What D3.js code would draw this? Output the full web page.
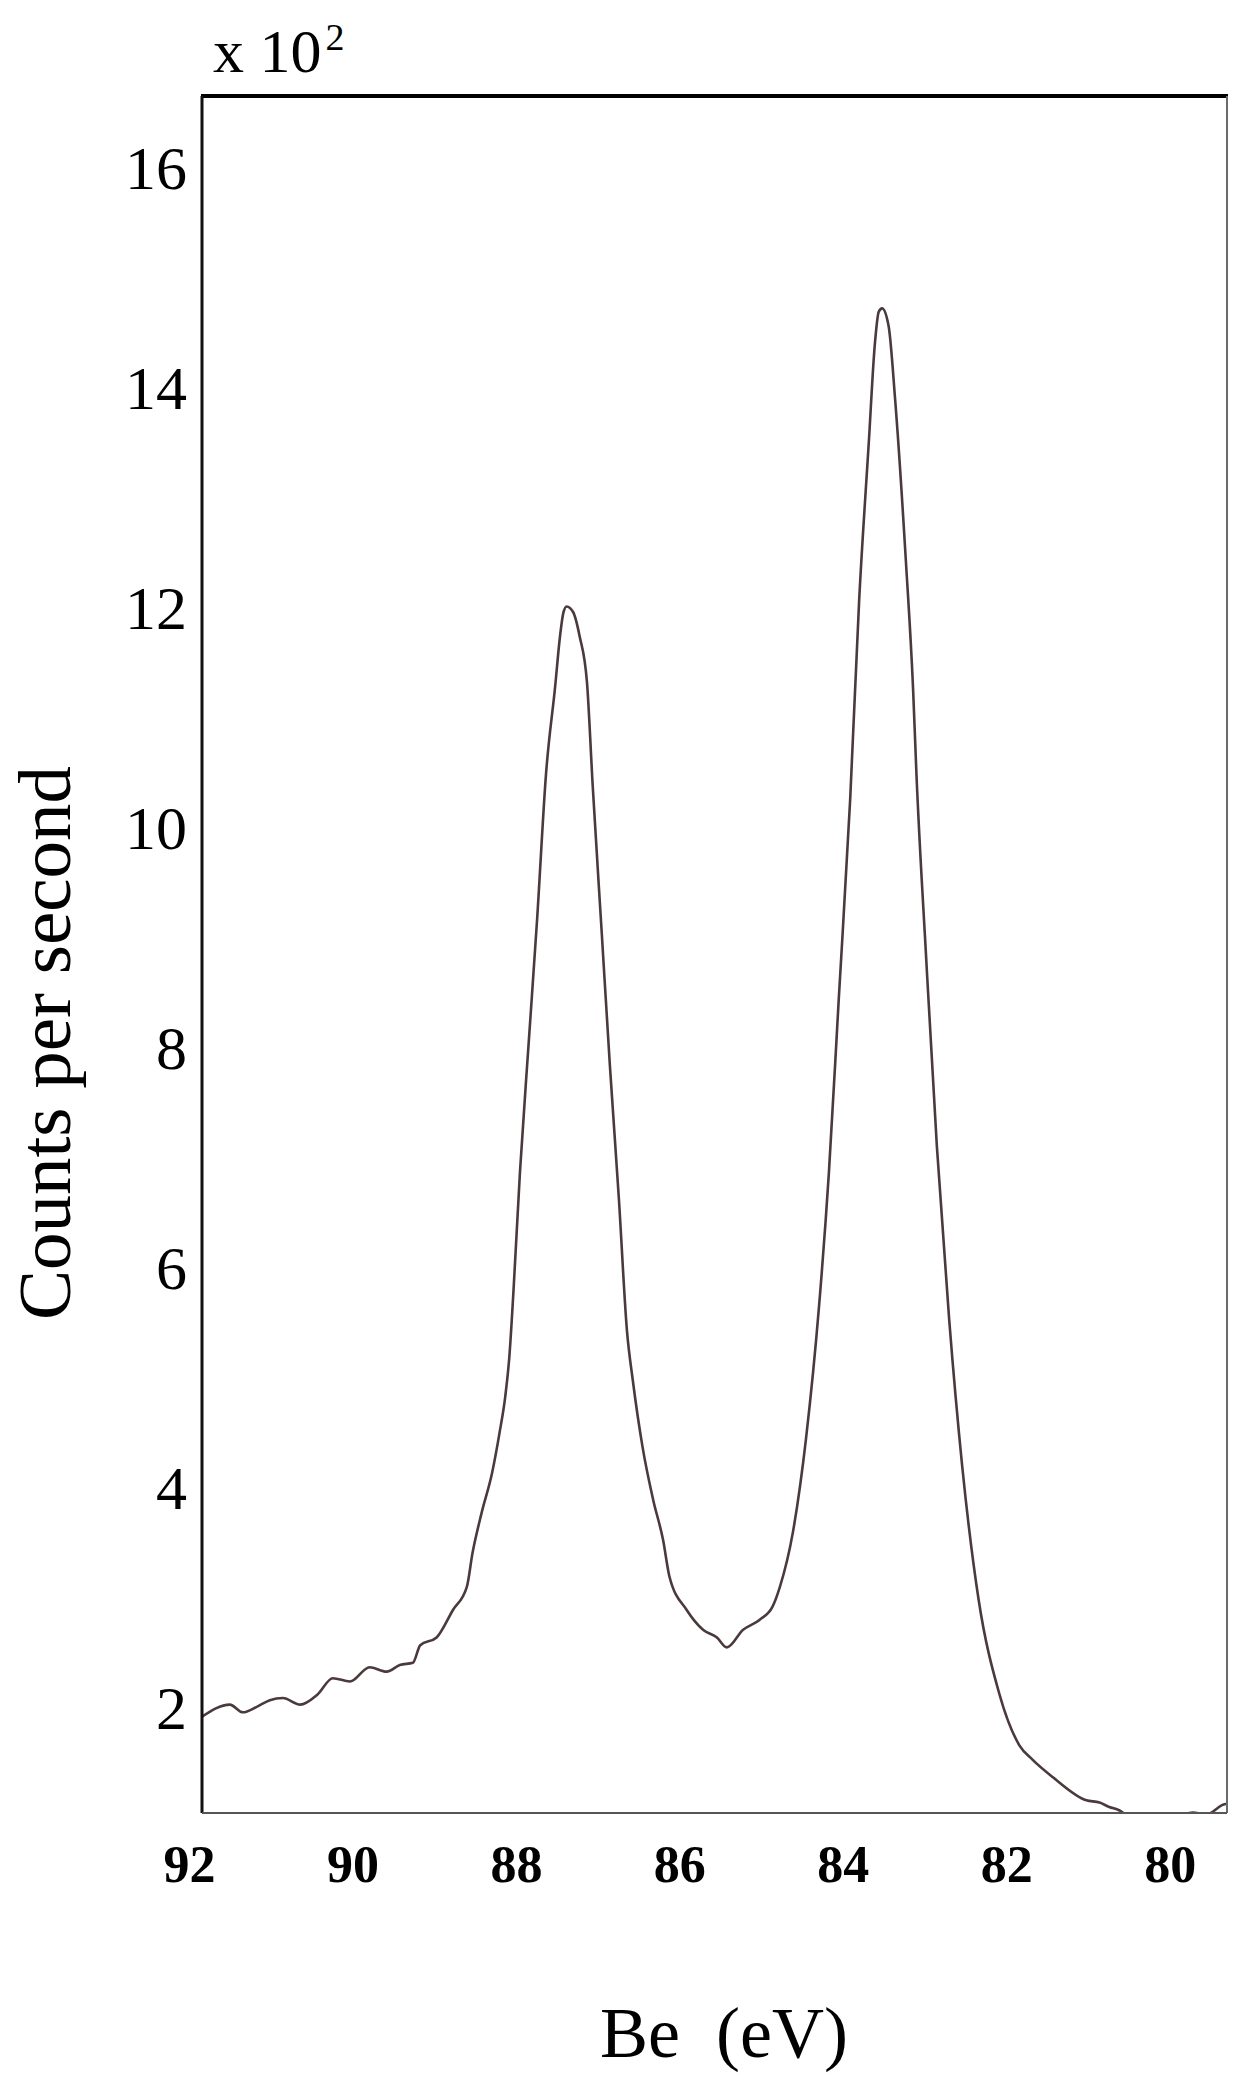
<!DOCTYPE html>
<html>
<head>
  <meta charset="utf-8">
  <style>
    body { margin: 0; background: #fff; }
    svg { display: block; }
    .ytick text { font: 62px "Liberation Serif", "DejaVu Serif", serif; fill: #000; }
    .xtick text { font: bold 52px "Liberation Serif", "DejaVu Serif", serif; fill: #000; }
    .title { font-family: "Liberation Serif", "DejaVu Serif", serif; fill: #000; white-space: pre; }
    .spectrum { fill: none; stroke: #4a3a3c; stroke-width: 2.6px; stroke-linejoin: round; }
  </style>
</head>
<body>
  <svg width="1259" height="2088"></svg>
  <script src="https://d3js.org/d3.v7.min.js"></script>
  <script>

  // binding energy (eV)
  var energy = [
    91.84, 91.50, 91.34, 91.17, 91.01, 90.85, 90.64, 90.43, 90.24, 90.03,
    89.79, 89.58, 89.42, 89.26, 89.17, 88.97, 88.77, 88.60, 88.53, 88.42,
    88.29, 88.20, 88.13, 88.08, 88.03, 87.95, 87.84, 87.74, 87.63, 87.52,
    87.46, 87.42, 87.38, 87.30, 87.22, 87.13, 87.06, 86.95, 86.85, 86.74,
    86.64, 86.57, 86.45, 86.32, 86.20, 86.12, 85.91, 85.71, 85.54, 85.42,
    85.22, 85.02, 84.86, 84.77, 84.61, 84.45, 84.29, 84.17, 84.05, 83.91,
    83.80, 83.68, 83.61, 83.56, 83.52, 83.44, 83.36, 83.23, 83.14, 83.10,
    82.98, 82.85, 82.70, 82.54, 82.34, 82.09, 81.84, 81.68, 81.43, 81.02,
    80.86, 80.74, 80.62, 80.50, 80.20, 79.90, 79.72, 79.55, 79.35, 79.30
  ];

  // counts per second, x 10^2
  var counts = [
    1.93, 2.04, 1.97, 2.02, 2.08, 2.10, 2.04, 2.13, 2.28, 2.25,
    2.38, 2.34, 2.40, 2.42, 2.58, 2.65, 2.90, 3.11, 3.42, 3.78,
    4.15, 4.51, 4.84, 5.20, 5.79, 6.88, 8.09, 9.18, 10.51, 11.29,
    11.75, 11.96, 12.02, 11.97, 11.75, 11.33, 10.39, 9.06, 7.85, 6.64,
    5.43, 4.99, 4.38, 3.90, 3.54, 3.20, 2.90, 2.72, 2.65, 2.56,
    2.72, 2.81, 2.93, 3.11, 3.61, 4.46, 5.67, 6.88, 8.45, 10.27,
    12.08, 13.54, 14.39, 14.70, 14.73, 14.57, 13.90, 12.45, 11.26, 10.51,
    8.82, 7.12, 5.55, 4.21, 3.00, 2.15, 1.67, 1.54, 1.38, 1.17,
    1.15, 1.11, 1.08, 1.03, 1.02, 1.03, 1.06, 1.04, 1.13, 1.14
  ];

  var xTicks = [92, 90, 88, 86, 84, 82, 80];
  var yTicks = [2, 4, 6, 8, 10, 12, 14, 16];

  var svg = d3.select("svg"),
      box = {left: 202, right: 1227, top: 96, bottom: 1813};

  var x = d3.scaleLinear().domain([91.84, 79.30]).range([box.left, box.right]),
      y = d3.scaleLinear().domain([1.055, 16.66]).range([box.bottom, box.top]);

  svg.append("defs").append("clipPath").attr("id", "plot")
    .append("rect")
    .attr("x", box.left).attr("y", box.top)
    .attr("width", box.right - box.left).attr("height", box.bottom - box.top);

  var data = energy.map(function(e, i) { return {e: e, c: counts[i]}; });

  var line = d3.line()
    .curve(d3.curveMonotoneX)
    .x(function(d) { return x(d.e); })
    .y(function(d) { return y(d.c); });

  svg.append("path")
    .datum(data)
    .attr("class", "spectrum")
    .attr("clip-path", "url(#plot)")
    .attr("d", line);

  // frame: heavy top/left, lighter grey right/bottom
  svg.append("line").attr("x1", box.left - 1).attr("x2", box.right + 1).attr("y1", box.top).attr("y2", box.top)
    .attr("stroke", "#000").attr("stroke-width", 4);
  svg.append("line").attr("x1", box.left).attr("x2", box.left).attr("y1", box.top).attr("y2", box.bottom)
    .attr("stroke", "#111").attr("stroke-width", 3);
  svg.append("line").attr("x1", box.right).attr("x2", box.right).attr("y1", box.top).attr("y2", box.bottom)
    .attr("stroke", "#6a6a6a").attr("stroke-width", 2);
  svg.append("line").attr("x1", box.left).attr("x2", box.right).attr("y1", box.bottom).attr("y2", box.bottom)
    .attr("stroke", "#555").attr("stroke-width", 2);

  var gx = svg.append("g")
    .attr("class", "xtick")
    .attr("transform", "translate(0," + box.bottom + ")")
    .call(d3.axisBottom(x).tickValues(xTicks).tickSize(0).tickFormat(d3.format("d")));
  gx.select(".domain").remove();
  gx.selectAll("text").attr("y", 69).attr("dy", 0);
  gx.attr("font-size", null).attr("font-family", null);

  var gy = svg.append("g")
    .attr("class", "ytick")
    .attr("transform", "translate(" + box.left + ",0)")
    .call(d3.axisLeft(y).tickValues(yTicks).tickSize(0).tickPadding(15).tickFormat(d3.format("d")));
  gy.select(".domain").remove();
  gy.attr("font-size", null).attr("font-family", null);

  // scale factor above the axis
  var mult = svg.append("text")
    .attr("class", "title")
    .attr("x", 213).attr("y", 72)
    .style("font-size", "62px");
  mult.append("tspan").text("x 10");
  mult.append("tspan").attr("dx", 4).attr("dy", -22).style("font-size", "38px").text("2");

  svg.append("text")
    .attr("class", "title")
    .attr("transform", "translate(70,1043) rotate(-90)")
    .attr("text-anchor", "middle")
    .style("font-size", "75px")
    .text("Counts per second");

  svg.append("text")
    .attr("class", "title")
    .attr("x", 724).attr("y", 2057)
    .attr("text-anchor", "middle")
    .style("font-size", "72px")
    .text("Be  (eV)");

  </script>
</body>
</html>
